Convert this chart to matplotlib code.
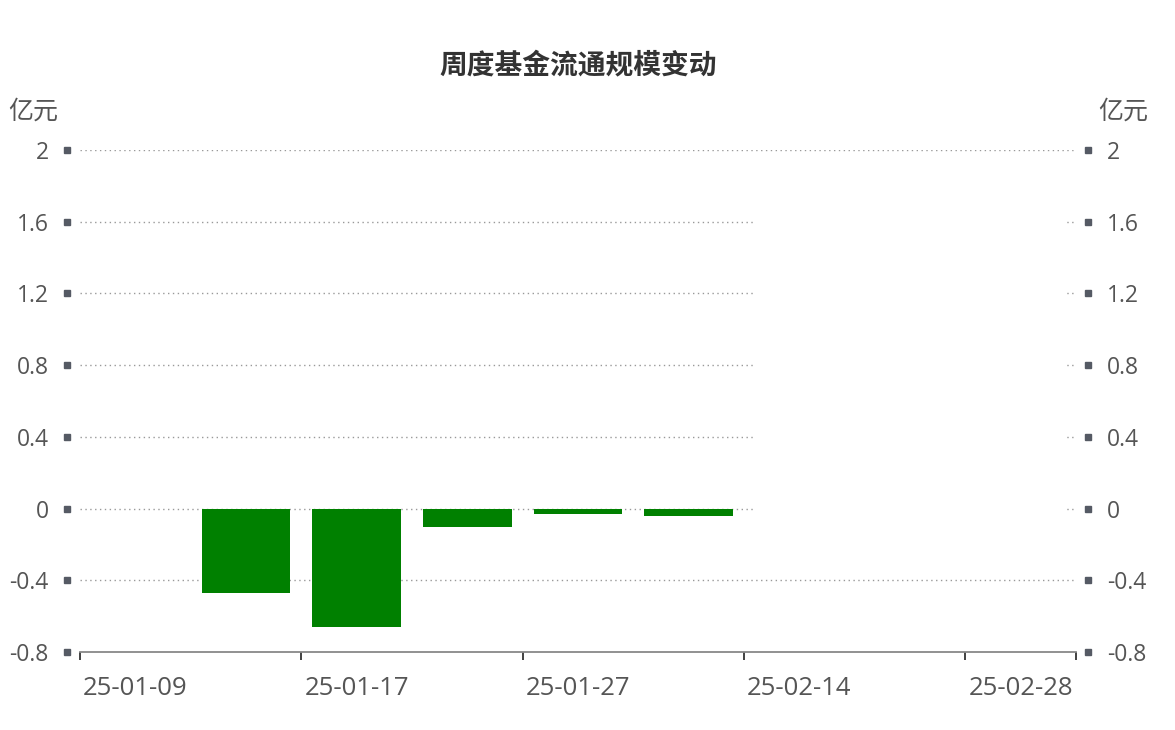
import numpy as np
import matplotlib
matplotlib.use("Agg")
import matplotlib.pyplot as plt
import matplotlib.transforms as mtransforms
from matplotlib.patches import Rectangle

plt.rcParams['font.family'] = ['Open Sans', 'Noto Sans CJK SC', 'DejaVu Sans']

# ---- data ----
dates = ['25-01-09', '25-01-10', '25-01-17', '25-01-24', '25-01-27',
         '25-02-07', '25-02-14', '25-02-21', '25-02-28']
values = [0.0, -0.47, -0.66, -0.10, -0.03, -0.04, 0.0, 0.0, 0.0]
yticks = [-0.8, -0.4, 0, 0.4, 0.8, 1.2, 1.6, 2]
ytick_labels = ['-0.8', '-0.4', '0', '0.4', '0.8', '1.2', '1.6', '2']
title = '周度基金流通规模变动'
unit = '亿元'

CJK = ['Noto Sans CJK SC', 'DejaVu Sans']

W, H = 1175, 730
fig = plt.figure(figsize=(W / 100, H / 100), dpi=100)
ax_l, ax_r, ax_b, ax_t = 80, 1076, 652, 150
ax = fig.add_axes([ax_l / W, 1 - ax_b / H, (ax_r - ax_l) / W, (ax_b - ax_t) / H])

x = np.arange(len(dates))
ax.bar(x, values, width=0.8, color='#008000', zorder=3)

ax.set_xlim(-0.5, len(dates) - 0.5)
ax.set_ylim(-0.8, 2)

# y grid
for v in yticks[1:]:
    ax.axhline(v, color='#999999', linestyle=(0, (1, 2.5)), linewidth=1.0, zorder=1)

for s in ['top', 'left', 'right']:
    ax.spines[s].set_visible(False)
ax.spines['bottom'].set_color('#888888')
ax.spines['bottom'].set_linewidth(1.3)

# y ticks
ax.set_yticks(yticks)
ax.set_yticklabels(ytick_labels)
ax.tick_params(axis='y', length=0, pad=22.5, labelsize=16.5, labelcolor='#555555',
               left=True, right=True, labelleft=True, labelright=True)

# square tick markers
base = mtransforms.blended_transform_factory(ax.transAxes, ax.transData)
tl = mtransforms.offset_copy(base, fig=fig, x=-13, y=0, units='dots')
tr = mtransforms.offset_copy(base, fig=fig, x=12, y=0, units='dots')
for v in yticks:
    ax.plot([0], [v], marker='s', markersize=4.4, color='#555a64', transform=tl, clip_on=False)
    ax.plot([1], [v], marker='s', markersize=4.4, color='#555a64', transform=tr, clip_on=False)

# x ticks: boundaries as major ticks, labels at category centres
bounds = [-0.5] + [i + 0.5 for i in range(1, len(dates), 2)] + [len(dates) - 0.5]
ax.set_xticks(bounds)
ax.set_xticklabels([''] * len(bounds))
ax.tick_params(axis='x', which='major', length=6, width=1.3, color='#333333', direction='out')
ax.set_xticks(x[::2], minor=True)
ax.set_xticklabels([dates[i] for i in x[::2]], minor=True)
ax.tick_params(axis='x', which='minor', length=0, pad=17, labelsize=18.5, labelcolor='#555555')

# white overlay region seen in the reference
fig.patches.append(Rectangle((756 / W, 1 - 514 / H), (1066 - 756) / W, (514 - 207) / H,
                             transform=fig.transFigure, facecolor='white',
                             edgecolor='none', zorder=5))

# units
fig.text(8 / W, 1 - 112 / H, unit, fontsize=18, color='#555555', ha='left', va='center', family=CJK)
fig.text(1148 / W, 1 - 112 / H, unit, fontsize=18, color='#555555', ha='right', va='center', family=CJK)

fig.text(578 / W, 1 - 65 / H, title, fontsize=20, fontweight='bold', color='#333333',
         ha='center', va='center', family=CJK)

fig.savefig('out.png', dpi=100, facecolor='white')
